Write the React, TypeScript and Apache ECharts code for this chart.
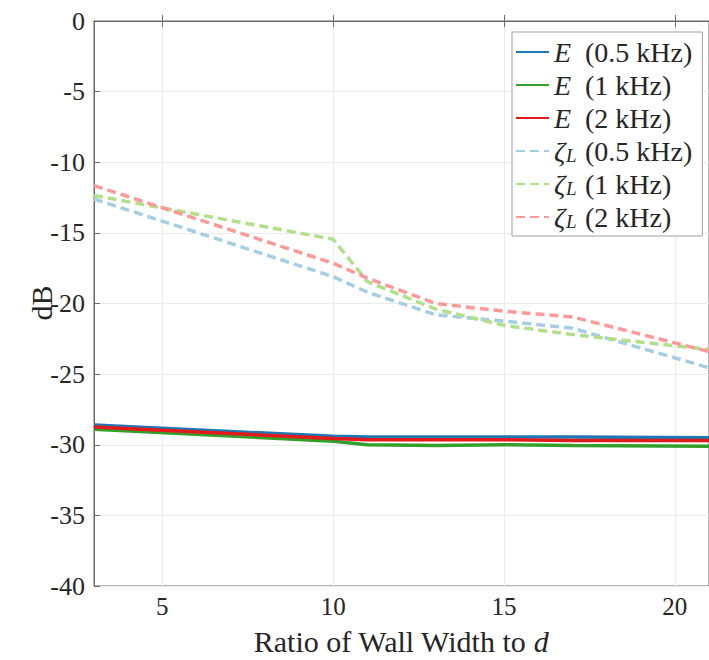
import React, { useEffect, useRef } from "react";
import * as echarts from "echarts";

const xValues = [3, 10, 11, 13, 15, 17, 21];
const e05 = [-28.6, -29.4, -29.45, -29.45, -29.45, -29.45, -29.5];
const e1 = [-28.9, -29.75, -30.0, -30.05, -30.0, -30.05, -30.1];
const e2 = [-28.75, -29.55, -29.65, -29.65, -29.65, -29.7, -29.7];
const z05 = [-12.6, -18.1, -19.2, -20.8, -21.25, -21.75, -24.55];
const z1 = [-12.35, -15.45, -18.45, -20.4, -21.55, -22.2, -23.25];
const z2 = [-11.65, -17.15, -18.2, -20.0, -20.55, -20.95, -23.4];

const xTicks = [5, 10, 15, 20];
const seriesNames = ["E (0.5 kHz)", "E (1 kHz)", "E (2 kHz)", "ζL (0.5 kHz)", "ζL (1 kHz)", "ζL (2 kHz)"];
const seriesColors = ["#1f78b4", "#33a02c", "#e31a1c", "#a6cee3", "#b2df8a", "#fb9a99"];

const FONT = "Liberation Serif";
const TXT = "#262626";

export default function App() {
  const ref = useRef<HTMLDivElement>(null);
  useEffect(() => {
    if (!ref.current) return;
    const chart = echarts.init(ref.current, null, { renderer: "svg" });
    const allData = [e05, e1, e2, z05, z1, z2];
    const series = allData.map((vals, i) => ({
      name: seriesNames[i],
      type: "line",
      data: xValues.map((x, j) => [x, vals[j]]),
      symbol: "none",
      showSymbol: false,
      z: i < 3 ? 3 : 2,
      lineStyle: {
        color: seriesColors[i],
        width: 3.5,
        type: i < 3 ? "solid" : [9, 5],
      },
      itemStyle: { color: seriesColors[i] },
    }));
    chart.setOption({
      animation: false,
      backgroundColor: "#ffffff",
      textStyle: { fontFamily: FONT },
      grid: {
        left: 94,
        top: 21,
        width: 622,
        height: 565,
        show: true,
        borderColor: "#6a6a6a",
        borderWidth: 1,
        containLabel: false,
      },
      xAxis: [
        {
          type: "value",
          min: 3,
          max: 21,
          axisLine: { show: true, lineStyle: { color: "#6a6a6a", width: 1 } },
          axisTick: { show: true, inside: true, length: 6, customValues: xTicks, lineStyle: { color: "#6a6a6a" } },
          axisLabel: {
            customValues: xTicks,
            fontFamily: FONT,
            fontSize: 25,
            color: TXT,
            margin: 8,
          },
          splitLine: { show: true, lineStyle: { color: "#ebebeb", width: 1 } },
        },
        {
          type: "value",
          position: "top",
          min: 3,
          max: 21,
          axisLine: { show: true, lineStyle: { color: "#6a6a6a", width: 1 } },
          axisTick: { show: true, inside: true, length: 6, customValues: xTicks, lineStyle: { color: "#6a6a6a" } },
          axisLabel: { show: false, customValues: xTicks },
          splitLine: { show: false },
        },
      ],
      yAxis: {
        type: "value",
        min: -40,
        max: 0,
        interval: 5,
        axisLine: { show: true, lineStyle: { color: "#6a6a6a", width: 1 } },
        axisTick: { show: true, inside: true, length: 6, lineStyle: { color: "#6a6a6a" } },
        axisLabel: {
          fontFamily: FONT,
          fontSize: 26,
          color: TXT,
          margin: 9,
          formatter: (v: number) => String(v),
        },
        splitLine: { show: true, lineStyle: { color: "#ebebeb", width: 1 } },
      },
      legend: {
        show: true,
        orient: "vertical",
        left: 512,
        top: 32,
        padding: [6, 10, 5, 3],
        itemWidth: 33,
        itemHeight: 14,
        itemGap: 5,
        backgroundColor: "#ffffff",
        borderColor: "#a0a0a0",
        borderWidth: 1,
        itemStyle: { opacity: 0 },
        data: seriesNames,
        formatter: (name: string) => {
          if (name.startsWith("E ")) return "{e|E}" + name.slice(2);
          return "{z|ζ}{sub|L}" + name.slice(3);
        },
        textStyle: {
          fontFamily: FONT,
          fontSize: 28,
          color: TXT,
          lineHeight: 28,
          rich: {
            e: { fontFamily: FONT, fontSize: 28, fontStyle: "italic", color: TXT, lineHeight: 28, width: 31 },
            z: { fontFamily: FONT, fontSize: 28, fontStyle: "italic", color: TXT, lineHeight: 28, width: 12 },
            sub: {
              fontFamily: FONT,
              fontSize: 19,
              fontStyle: "italic",
              color: TXT,
              lineHeight: 19,
              width: 19,
              verticalAlign: "bottom",
              padding: [9, 0, 0, 0],
            },
          },
        },
      },
      graphic: [
        {
          type: "text",
          x: 41,
          y: 303,
          rotation: Math.PI / 2,
          style: {
            text: "dB",
            fontFamily: FONT,
            fontSize: 30,
            fill: TXT,
            align: "center",
            verticalAlign: "middle",
          },
        },
        {
          type: "text",
          x: 401,
          y: 641,
          style: {
            text: "Ratio of Wall Width to {it|d}",
            fontFamily: FONT,
            fontSize: 30,
            fill: TXT,
            align: "center",
            verticalAlign: "middle",
            rich: {
              it: { fontFamily: FONT, fontSize: 30, fontStyle: "italic", fill: TXT },
            },
          },
        },
      ],
      series,
    });
    return () => chart.dispose();
  }, []);
  return (
    <div
      ref={ref}
      style={{ position: "fixed", left: 0, top: 0, width: 709, height: 660, background: "#fff" }}
    />
  );
}
